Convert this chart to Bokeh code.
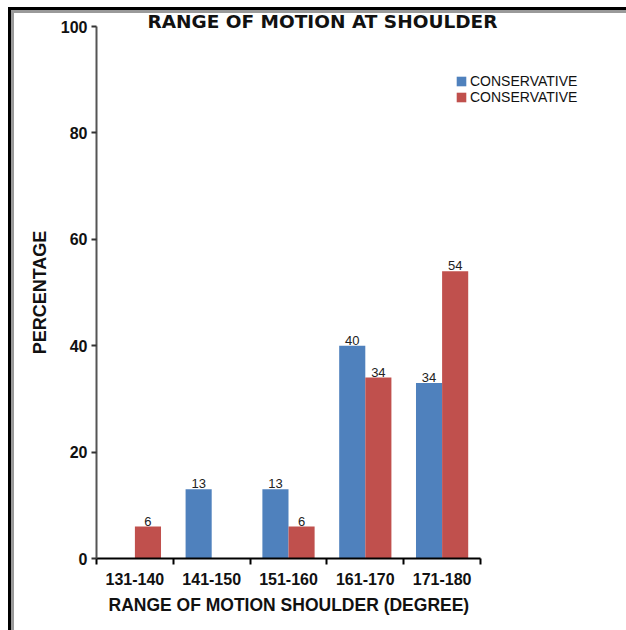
from bokeh.plotting import figure
from bokeh.models import (Range1d, FixedTicker, ColumnDataSource, Legend, LegendItem, Title)
from bokeh.core.properties import value
from bokeh.embed import file_html
from bokeh.resources import INLINE

categories = ["131-140", "141-150", "151-160", "161-170", "171-180"]
series_names = ["CONSERVATIVE", "CONSERVATIVE"]
blue_values = [0, 13, 13, 40, 33]
red_values = [6, 0, 6, 34, 54]
blue_labels = ["", "13", "13", "40", "34"]
red_labels = ["6", "", "6", "34", "54"]
y_ticks = [0, 20, 40, 60, 80, 100]

BLUE = "#4F81BD"
RED = "#C0504D"
FONT = "Liberation Sans"

p = figure(width=626, height=630, output_backend="svg", toolbar_location=None,
           x_range=Range1d(0, 6.901), y_range=Range1d(0, 100),
           min_border_left=96, min_border_top=26, min_border_right=0, min_border_bottom=72)
p.styles = {"box-shadow": "inset 8px 7px 0 #ffffff, inset 11px 10px 0 #000000, inset 14px 13px 0 #9a9a9a"}
p.border_fill_color = None
p.background_fill_color = None
p.outline_line_color = None
p.grid.visible = False

p.title = Title(text="RANGE OF MOTION AT  SHOULDER", align="left", offset=51, standoff=-10,
                text_font="DejaVu Sans", text_font_size="18.5px", text_font_style="bold",
                text_color="#111111")

centers = [i + 0.5 for i in range(len(categories))]
bw = 0.34
off = 0.17
src_b = ColumnDataSource(dict(x=[c - off for c in centers], top=blue_values, lab=blue_labels))
src_r = ColumnDataSource(dict(x=[c + off for c in centers], top=red_values, lab=red_labels))

rb = p.vbar(x="x", top="top", width=bw, source=src_b, fill_color=BLUE, line_color=None)
rr = p.vbar(x="x", top="top", width=bw, source=src_r, fill_color=RED, line_color=None)

for src in (src_b, src_r):
    p.text(x="x", y="top", text="lab", source=src, text_align="center", text_baseline="bottom",
           y_offset=-1, text_font=value(FONT), text_font_size="13px", text_color="#222222")

# x axis
xa = p.xaxis[0]
xa.bounds = (0, len(categories))
xa.ticker = FixedTicker(ticks=centers, minor_ticks=list(range(len(categories) + 1)))
xa.major_label_overrides = {c: lab for c, lab in zip(centers, categories)}
xa.major_tick_out = 0
xa.major_tick_in = 0
xa.minor_tick_out = 6
xa.minor_tick_in = 0
xa.minor_tick_line_color = "black"
xa.minor_tick_line_width = 2
xa.axis_line_color = "black"
xa.axis_line_width = 2
xa.major_label_standoff = 8
xa.major_label_text_font = FONT
xa.major_label_text_font_size = "16px"
xa.major_label_text_font_style = "bold"
xa.major_label_text_color = "#111111"

p.add_layout(Title(text="RANGE OF MOTION SHOULDER (DEGREE)", align="left", offset=12, standoff=10,
                   text_font=FONT, text_font_size="17.5px", text_font_style="bold",
                   text_color="#111111"), "below")

# y axis
ya = p.yaxis[0]
ya.bounds = (0, 100)
ya.ticker = FixedTicker(ticks=y_ticks, minor_ticks=[])
ya.major_tick_out = 5
ya.major_tick_in = 0
ya.major_tick_line_color = "#333333"
ya.major_tick_line_width = 2
ya.axis_line_color = "#555555"
ya.axis_line_width = 2
ya.major_label_standoff = 4
ya.major_label_text_font = FONT
ya.major_label_text_font_size = "16px"
ya.major_label_text_font_style = "bold"
ya.major_label_text_color = "#111111"
ya.axis_label = "PERCENTAGE"
ya.axis_label_text_font = FONT
ya.axis_label_text_font_size = "18px"
ya.axis_label_text_font_style = "bold"
ya.axis_label_text_color = "#111111"
ya.axis_label_standoff = 8

legend = Legend(items=[LegendItem(label=series_names[0], renderers=[rb]),
                       LegendItem(label=series_names[1], renderers=[rr])],
                location=(359, 453), padding=0, spacing=0, margin=0,
                glyph_width=12, glyph_height=12, label_height=15, label_standoff=3,
                label_text_font=FONT, label_text_font_size="14px",
                label_text_color="#111111", border_line_color=None, background_fill_alpha=0)
p.add_layout(legend)

open("out.html", "w").write(file_html(p, INLINE))
